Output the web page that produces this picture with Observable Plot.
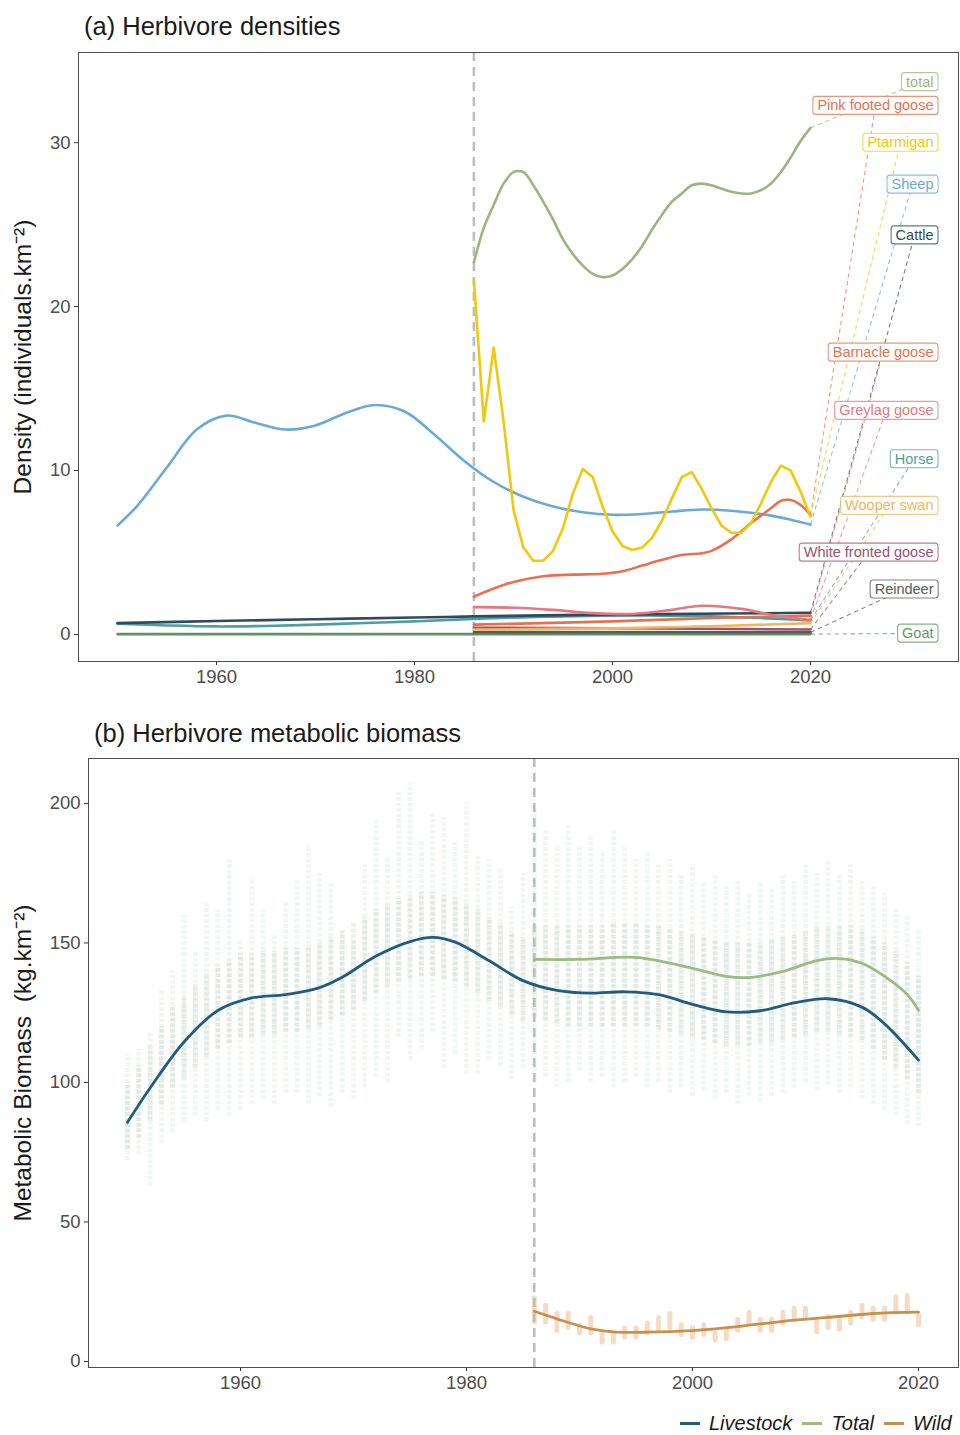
<!DOCTYPE html>
<html>
<head>
<meta charset="utf-8">
<script src="https://cdn.jsdelivr.net/npm/d3@7"></script>
<script src="https://cdn.jsdelivr.net/npm/@observablehq/plot@0.6"></script>
<style>
  body { margin: 0; background: #fff; font-family: "Liberation Sans", Arial, sans-serif; }
  #wrap { position: relative; width: 960px; height: 1435px; overflow: hidden; background: #fff; }
  .ptitle { position: absolute; font-size: 25.5px; color: #1a1a1a; white-space: nowrap; line-height: 1; }
  #panelA { position: absolute; left: 0; top: 42px; }
  #panelB { position: absolute; left: 0; top: 748px; }
  #legend { position: absolute; left: 680px; top: 1411px; display: flex; align-items: center;
            font-style: italic; font-size: 20px; color: #1a1a1a; white-space: nowrap; line-height: 24px; }
  #legend .sw { display: inline-block; width: 20px; height: 3px; margin-right: 9px; }
  #legend .it { display: flex; align-items: center; margin-right: 10px; }
</style>
</head>
<body>
<div id="wrap">
  <div class="ptitle" style="left:84px; top:14px;">(a) Herbivore densities</div>
  <div id="panelA"></div>
  <div class="ptitle" style="left:94px; top:721px;">(b) Herbivore metabolic biomass</div>
  <div id="panelB"></div>
  <div id="legend"></div>
</div>
<script>
// ================= DATA: panel (a) Herbivore densities =================
const yearTicks = [1960, 1980, 2000, 2020];
const densityTicks = [0, 10, 20, 30];
const surveyStart = 1986;

const annualYears = [1986,1987,1988,1989,1990,1991,1992,1993,1994,1995,1996,1997,1998,1999,2000,
  2001,2002,2003,2004,2005,2006,2007,2008,2009,2010,2011,2012,2013,2014,2015,2016,2017,2018,2019,2020];
const totalDensity = [22.7,24.8,26.2,27.5,28.2,28.2,27.4,26.4,25.3,24.1,23.2,22.5,22.0,21.8,21.9,
  22.3,22.9,23.7,24.7,25.6,26.4,26.9,27.4,27.5,27.4,27.2,27.0,26.9,26.9,27.1,27.5,28.2,29.1,30.1,30.9];
const ptarmiganDensity = [21.6,13.0,17.5,13.0,7.6,5.3,4.5,4.5,5.1,6.5,8.6,10.1,9.6,7.8,6.3,
  5.4,5.15,5.3,5.9,6.95,8.3,9.6,9.9,8.9,7.7,6.65,6.2,6.2,6.8,8.0,9.3,10.3,10.0,8.7,7.2];

const sheepYears = [1950,1952,1955,1958,1961,1964,1967,1970,1973,1976,1979,1982,1985,1988,1991,1994,1997,2000,2003,2006,2009,2012,2015,2018,2020];
const sheepDensity = [6.65,7.85,10.2,12.5,13.35,12.9,12.5,12.75,13.5,14.0,13.6,12.2,10.6,9.3,8.4,7.8,7.45,7.3,7.35,7.5,7.62,7.55,7.35,7.0,6.7];

const pinkYears = [1986,1988,1990,1993,1996,1999,2001,2003,2005,2007,2009,2010,2012,2014,2016,2017,2018,2019,2020];
const pinkDensity = [2.3,2.8,3.2,3.55,3.65,3.7,3.85,4.2,4.55,4.85,4.95,5.1,5.8,6.8,7.7,8.15,8.2,7.9,7.3];

const cattleYears = [1950,1960,1970,1980,1986,1995,2005,2020];
const cattleDensity = [0.69,0.82,0.93,1.03,1.1,1.18,1.24,1.32];

const horseYears = [1950,1955,1960,1965,1970,1975,1980,1986,1995,2005,2010,2015,2020];
const horseDensity = [0.65,0.55,0.49,0.52,0.6,0.7,0.8,0.95,1.1,1.15,1.1,1.0,0.85];

const greylagYears = [1986,1990,1994,1998,2002,2006,2009,2013,2017,2020];
const greylagDensity = [1.67,1.63,1.5,1.3,1.25,1.5,1.75,1.56,1.1,0.9];

const barnacleYears = [1986,2000,2010,2020];
const barnacleDensity = [0.6,0.8,1.0,1.15];

const wooperYears = [1986,2000,2010,2020];
const wooperDensity = [0.3,0.38,0.5,0.69];

const whiteFrontedYears = [1986,2000,2020];
const whiteFrontedDensity = [0.41,0.38,0.3];

const reindeerYears = [1986,2020];
const reindeerDensity = [0.14,0.13];

const goatYears = [1950,1986,2020];
const goatDensity = [0.02,0.02,0.02];

const labelNames = ["total","Pink footed goose","Ptarmigan","Sheep","Cattle","Barnacle goose",
  "Greylag goose","Horse","Wooper swan","White fronted goose","Reindeer","Goat"];
const labelY = [33.7,32.25,30.0,27.45,24.35,17.2,13.65,10.7,7.85,5.0,2.75,0.06];
const seriesColors = ["#9bb57e","#ec6f4f","#f2c70c","#6aaad6","#2e4a5e","#e8714d",
  "#e8767f","#4e9f9c","#f4b45c","#9c5070","#5a5a5a","#5f9461"];

// ================= DATA: panel (b) Herbivore metabolic biomass =================
const biomassTicks = [0, 50, 100, 150, 200];
const cloudYears = [1950,1951,1952,1953,1954,1955,1956,1957,1958,1959,1960,1961,1962,1963,1964,1965,1966,1967,1968,1969,
  1970,1971,1972,1973,1974,1975,1976,1977,1978,1979,1980,1981,1982,1983,1984,1985,
  1986,1987,1988,1989,1990,1991,1992,1993,1994,1995,1996,1997,1998,1999,2000,
  2001,2002,2003,2004,2005,2006,2007,2008,2009,2010,2011,2012,2013,2014,2015,2016,2017,2018,2019,2020];
const cloudHi = [110,112,118,133,140,160,147,164,162,180,151,173,162,153,165,173,185,175,171,155,
  151,178,194,181,204,207,187,196,195,186,200,181,180,177,163,175,
  198,190,185,192,185,188,183,190,185,180,183,178,180,175,178,
  172,175,170,172,168,172,170,175,172,178,175,180,175,178,172,170,168,162,160,155];
const cloudLo = [72,74,63,78,82,86,88,86,90,88,90,92,94,92,96,96,92,95,91,96,
  94,98,102,100,116,108,112,118,105,110,103,103,108,106,101,105,
  100,102,98,100,104,100,102,98,100,102,98,100,96,98,95,
  97,94,96,92,95,93,95,96,98,100,97,99,96,98,94,92,90,88,85,84];
const cloudQ1 = [76,80,86,92,98,101,105,109,112,114,116,116,117,117,118,118,119,120,122,124,
  126,129,132,134,136,137,138,138,137,136,134,132,129,127,124,122,
  123,122,121,120,120,120,120,120,120,120,120,119,118,117,116,
  115,114,113,113,113,114,114,115,116,117,118,118,117,116,115,112,108,105,101,96];
const cloudQ3 = [100,106,113,120,127,131,135,139,142,144,146,146,147,147,148,148,149,150,152,154,
  157,159,162,164,166,167,168,168,167,166,164,162,159,157,154,152,
  156,156,156,156,156,156,156,157,157,157,156,156,155,154,153,
  152,151,150,150,150,150,151,152,153,154,156,156,156,156,155,152,150,147,143,138];

const wildLo = [14,14,11,12,10,10,6.8,6.8,8.6,8.6,10,11,12,9.5,8.5,9.5,7.5,8,11,13.6,11,11,13.5,15.4,15.4,10.5,12,11.5,13.5,15.8,15,15,17.6,17.5,13];
const wildHi = [22.6,20,17,17,12.9,15.5,10,10,11.8,11.8,13.6,15.5,17,13,12,13,10,11,15,17.5,15,15,17.5,19,19,14.5,16,15.5,17.5,20,19,19,23,23.5,16.5];

const livestockYears = [1950,1952,1955,1958,1961,1964,1967,1969,1972,1975,1977,1979,1982,1985,1988,1991,1994,1997,2000,2003,2006,2009,2012,2015,2017,2020];
const livestockBiomass = [85.7,98,114.5,125.8,130.3,131.5,134,137.7,145.3,150.5,152,150.3,143.6,136.5,133,132,132.5,131.5,128,125.3,125.7,128.5,130,127,121,108];
const totalYears = [1986,1990,1995,2000,2003,2005,2008,2011,2013,2015,2017,2019,2020];
const totalBiomass = [144.1,144.1,144.8,140.9,138,137.6,139.8,143.7,144.4,142.7,138,131.5,125.8];
const wildYears = [1986,1988,1991,1993,1996,2000,2004,2008,2012,2016,2020];
const wildBiomass = [18,15.3,11.7,10.6,10.5,11.1,12.5,14.4,15.8,17.2,17.7];

const groupNames = ["Livestock","Total","Wild"];
const groupColors = ["#245a7d","#9dba82","#c8914b"];

// ================= helpers =================
const W = 960;
const FONT = "'Liberation Sans', Arial, Helvetica, sans-serif";
const rows = (name, xs, ys) => xs.map((x, i) => ({name, year: x, value: ys[i]}));

function styleAxes(svg, labelSize) {
  const s = d3.select(svg);
  s.selectAll('g[aria-label="y-axis label"] text, g[aria-label="x-axis label"] text')
    .style("font-size", labelSize).attr("fill", "#1a1a1a")
    .each(function() {
      const t = this.textContent;
      const c = t.replace(/\s*[\u2191\u2193\u2190\u2192]\s*/g, "");
      if (c !== t) this.textContent = c;
    });
  s.selectAll('g[aria-label="y-axis tick label"] text, g[aria-label="x-axis tick label"] text')
    .attr("fill", "#4d4d4d");
}

// ================= panel (a) =================
{
  const m = {top: 10, right: 2, bottom: 41, left: 78};
  const H = 660;
  const xDom = [1946.06, 2034.95], yDom = [-1.65, 35.5];
  const xs = Plot.scale({x: {domain: xDom, range: [m.left, W - m.right]}});

  const smooth = [
    ...rows("Sheep", sheepYears, sheepDensity),
    ...rows("Goat", goatYears, goatDensity),
    ...rows("Horse", horseYears, horseDensity),
    ...rows("Cattle", cattleYears, cattleDensity),
    ...rows("Reindeer", reindeerYears, reindeerDensity),
    ...rows("White fronted goose", whiteFrontedYears, whiteFrontedDensity),
    ...rows("Wooper swan", wooperYears, wooperDensity),
    ...rows("Barnacle goose", barnacleYears, barnacleDensity),
    ...rows("Greylag goose", greylagYears, greylagDensity),
    ...rows("Pink footed goose", pinkYears, pinkDensity),
    ...rows("total", annualYears, totalDensity)
  ];
  const ptarmigan = rows("Ptarmigan", annualYears, ptarmiganDensity);

  const endValue = {};
  for (const r of [...smooth, ...ptarmigan]) {
    if (r.year === 2020) endValue[r.name] = r.value;
  }

  const ctx = document.createElement("canvas").getContext("2d");
  ctx.font = "14.5px " + FONT;
  const rightPx = 933;
  const labels = labelNames.map((n, i) => {
    const w = ctx.measureText(n).width;
    return {name: n, y: labelY[i], x: xs.invert(rightPx), xc: xs.invert(rightPx - w / 2)};
  });
  const links = labels.map(l => ({name: l.name, x1: 2020, y1: endValue[l.name], x2: l.xc, y2: l.y}));

  const chart = Plot.plot({
    width: W, height: H,
    marginTop: m.top, marginRight: m.right, marginBottom: m.bottom, marginLeft: m.left,
    style: {fontFamily: FONT, fontSize: "18.5px", color: "#333", background: "#fff", overflow: "visible"},
    x: {domain: xDom, ticks: yearTicks, tickFormat: "d", tickSize: 4, tickPadding: 4, label: null},
    y: {domain: yDom, ticks: densityTicks, tickSize: 4, tickPadding: 4, labelArrow: false,
        label: "Density (individuals.km\u207B\u00B2)", labelAnchor: "center", labelOffset: 65},
    color: {domain: labelNames, range: seriesColors},
    marks: [
      Plot.ruleX([surveyStart], {stroke: "#bdbdbd", strokeWidth: 2.6, strokeDasharray: "9,6"}),
      Plot.line(smooth, {x: "year", y: "value", z: "name", stroke: "name", strokeWidth: 2.6, curve: "catmull-rom"}),
      Plot.line(ptarmigan, {x: "year", y: "value", z: "name", stroke: "name", strokeWidth: 2.6, curve: "linear"}),
      Plot.link(links, {x1: "x1", y1: "y1", x2: "x2", y2: "y2", stroke: "name",
        strokeWidth: 1.1, strokeOpacity: 0.7, strokeDasharray: "4.5,3.5"}),
      Plot.text(labels, {x: "x", y: "y", text: "name", fill: "name", textAnchor: "end", fontSize: 14.5}),
      Plot.frame({stroke: "#4d4d4d", strokeWidth: 1})
    ]
  });
  document.getElementById("panelA").appendChild(chart);
  styleAxes(chart, "24.5px");

  // label boxes (white-filled, coloured border) behind each label text
  const tg = chart.querySelector('g[aria-label="text"]');
  if (tg) {
    const boxes = document.createElementNS("http://www.w3.org/2000/svg", "g");
    tg.insertBefore(boxes, tg.firstChild);
    tg.querySelectorAll("text").forEach(t => {
      const b = t.getBBox();
      const r = document.createElementNS("http://www.w3.org/2000/svg", "rect");
      r.setAttribute("x", b.x - 4.5);
      r.setAttribute("y", b.y - 1);
      r.setAttribute("width", b.width + 9);
      r.setAttribute("height", b.height + 2);
      r.setAttribute("rx", 3);
      r.setAttribute("fill", "#fff");
      r.setAttribute("stroke", t.getAttribute("fill"));
      r.setAttribute("stroke-opacity", 0.75);
      r.setAttribute("stroke-width", 1.1);
      if (t.getAttribute("transform")) r.setAttribute("transform", t.getAttribute("transform"));
      boxes.appendChild(r);
    });
  }
}

// ================= panel (b) =================
{
  const m = {top: 10, right: 2, bottom: 41, left: 88};
  const H = 660;
  const xDom = [1946.55, 2023.54], yDom = [-2.15, 216.1];

  const cloud = cloudYears.map((y, i) => ({year: y, lo: cloudLo[i], hi: cloudHi[i], q1: cloudQ1[i], q3: cloudQ3[i]}));
  const wildCloud = annualYears.map((y, i) => ({year: y, lo: wildLo[i], hi: wildHi[i]}));
  const lines = [
    ...rows("Total", totalYears, totalBiomass),
    ...rows("Livestock", livestockYears, livestockBiomass),
    ...rows("Wild", wildYears, wildBiomass)
  ];

  const chart = Plot.plot({
    width: W, height: H,
    marginTop: m.top, marginRight: m.right, marginBottom: m.bottom, marginLeft: m.left,
    style: {fontFamily: FONT, fontSize: "18.5px", color: "#333", background: "#fff", overflow: "visible"},
    x: {domain: xDom, ticks: yearTicks, tickFormat: "d", tickSize: 4, tickPadding: 4, label: null},
    y: {domain: yDom, ticks: biomassTicks, tickSize: 4, tickPadding: 4, labelArrow: false,
        label: "Metabolic Biomass\u00A0\u00A0(kg.km\u207B\u00B2)", labelAnchor: "center", labelOffset: 75},
    color: {domain: groupNames, range: groupColors},
    marks: [
      Plot.ruleX(cloud, {x: "year", y1: "lo", y2: "hi", stroke: "#72a487", strokeOpacity: 0.09, strokeWidth: 5, strokeDasharray: "4,1.5"}),
      Plot.ruleX(cloud, {x: "year", y1: "q1", y2: "q3", stroke: "#72a487", strokeOpacity: 0.15, strokeWidth: 5, strokeDasharray: "4,1.5"}),
      Plot.ruleX(wildCloud, {x: "year", y1: "lo", y2: "hi", stroke: "#e6a672", strokeOpacity: 0.42, strokeWidth: 5, strokeLinecap: "round"}),
      Plot.ruleX([surveyStart], {stroke: "#bdbdbd", strokeWidth: 2.6, strokeDasharray: "9,6"}),
      Plot.line(lines, {x: "year", y: "value", z: "name", stroke: "name", strokeWidth: 2.8, curve: "catmull-rom"}),
      Plot.frame({stroke: "#4d4d4d", strokeWidth: 1})
    ]
  });
  document.getElementById("panelB").appendChild(chart);
  styleAxes(chart, "24.5px");
}

// ================= legend =================
{
  const lg = document.getElementById("legend");
  groupNames.forEach((n, i) => {
    const it = document.createElement("span");
    it.className = "it";
    const sw = document.createElement("span");
    sw.className = "sw";
    sw.style.background = groupColors[i];
    const tx = document.createElement("span");
    tx.textContent = n;
    it.appendChild(sw); it.appendChild(tx);
    lg.appendChild(it);
  });
}
</script>
</body>
</html>
